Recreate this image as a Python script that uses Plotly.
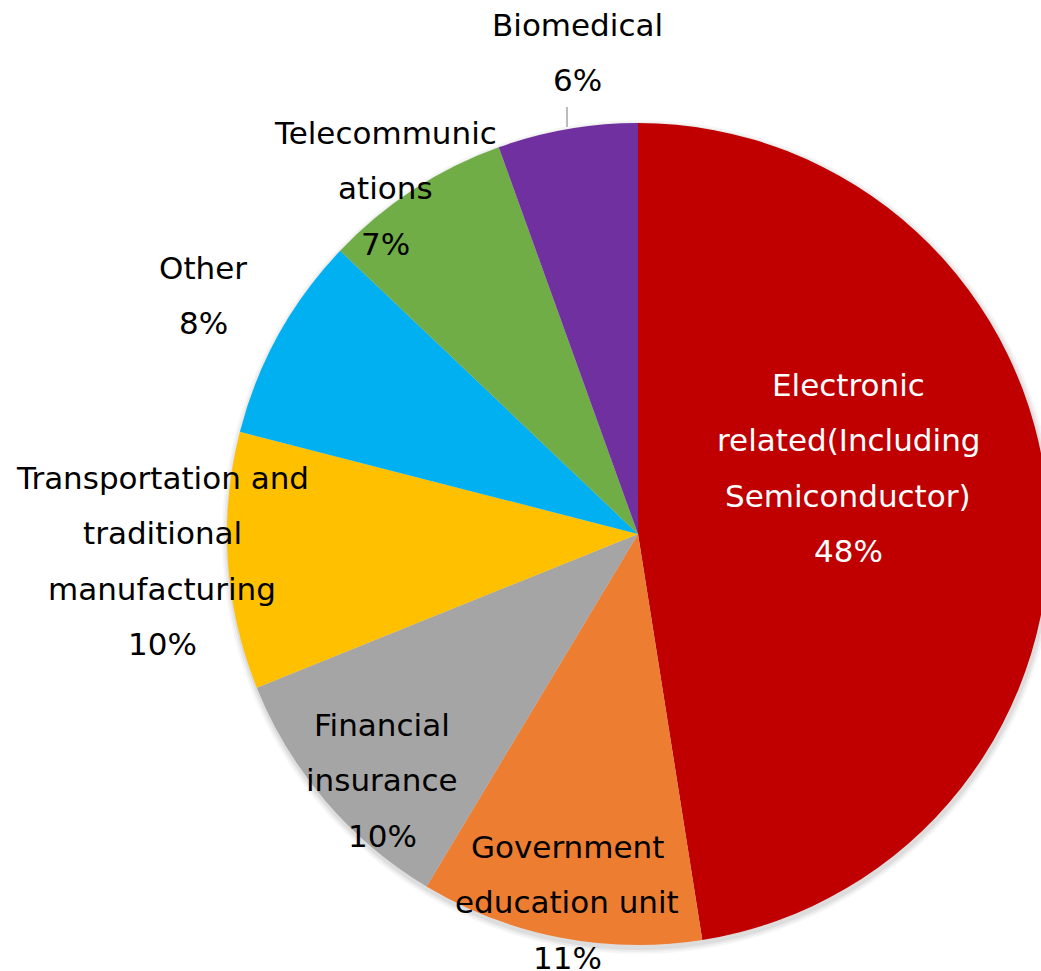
import plotly.graph_objects as go

# ---- data ----
categories = [
    "Electronic related(Including Semiconductor)",
    "Government education unit",
    "Financial insurance",
    "Transportation and traditional manufacturing",
    "Other",
    "Telecommunications",
    "Biomedical",
]
values = [47.5, 11.1, 10.3, 10.1, 8.1, 7.4, 5.5]
label_lines = [
    ["Electronic", "related(Including", "Semiconductor)"],
    ["Government", "education unit"],
    ["Financial", "insurance"],
    ["Transportation and", "traditional", "manufacturing"],
    ["Other"],
    ["Telecommunic", "ations"],
    ["Biomedical"],
]

# ---- style ----
colors = ["#C00000", "#ED7D31", "#A5A5A5", "#FFC000", "#00B0F0", "#70AD47", "#7030A0"]
text_colors = ["white", "black", "black", "black", "black", "black", "black"]
W, H = 1060, 971          # page is 1041 wide; the extra is clipped like the reference
FONT = "DejaVu Sans"
FSIZE = 31
LINE_H = 55.3
# (x centre px, y of first line px) for each label block
label_pos = [(848, 385), (567, 847), (382, 725), (162, 478), (203, 268), (385, 133), (577, 25)]

# pie geometry: centre (638, 534), radius 411
CX, CY, R = 638, 534, 411


def dom(cx, cy, r):
    return dict(x=[(cx - r) / W, (cx + r) / W], y=[1 - (cy + r) / H, 1 - (cy - r) / H])


traces = []
# soft shadow behind the pie
for dr, a in [(6, 0.035), (4, 0.045), (2, 0.06)]:
    traces.append(go.Pie(
        values=[1], labels=["shadow"], sort=False, textinfo="none",
        hoverinfo="skip", showlegend=False,
        marker=dict(colors=[f"rgba(0,0,0,{a})"], line=dict(width=0)),
        domain=dom(CX + 1, CY + 3, R + dr),
    ))

traces.append(go.Pie(
    labels=categories,
    values=values,
    sort=False,
    direction="clockwise",
    rotation=0,
    marker=dict(colors=colors, line=dict(width=0)),
    textinfo="none",
    hoverinfo="label+percent",
    domain=dom(CX, CY, R),
    showlegend=False,
))

fig = go.Figure(traces)

total = sum(values)
annotations = []
for lines, v, (px, py), tc in zip(label_lines, values, label_pos, text_colors):
    pct = f"{int(100 * v / total + 0.5)}%"
    for i, txt in enumerate(lines + [pct]):
        y = py + i * LINE_H
        annotations.append(dict(
            x=px / W, y=1 - y / H, xref="paper", yref="paper",
            text=txt, showarrow=False, xanchor="center", yanchor="middle",
            font=dict(family=FONT, size=FSIZE, color=tc),
        ))

fig.update_layout(
    width=W, height=H,
    margin=dict(l=0, r=0, t=0, b=0),
    paper_bgcolor="white",
    plot_bgcolor="white",
    annotations=annotations,
    shapes=[dict(type="line", xref="paper", yref="paper",
                 x0=567 / W, x1=567 / W,
                 y0=1 - 107 / H, y1=1 - 127 / H,
                 line=dict(color="#A6A6A6", width=1.5))],
)

fig.write_html(
    "out.html",
    config={"displayModeBar": False},
    post_script=("document.body.style.margin='0';"
                 "document.body.style.overflow='hidden';"
                 "document.documentElement.style.overflow='hidden';"),
)
